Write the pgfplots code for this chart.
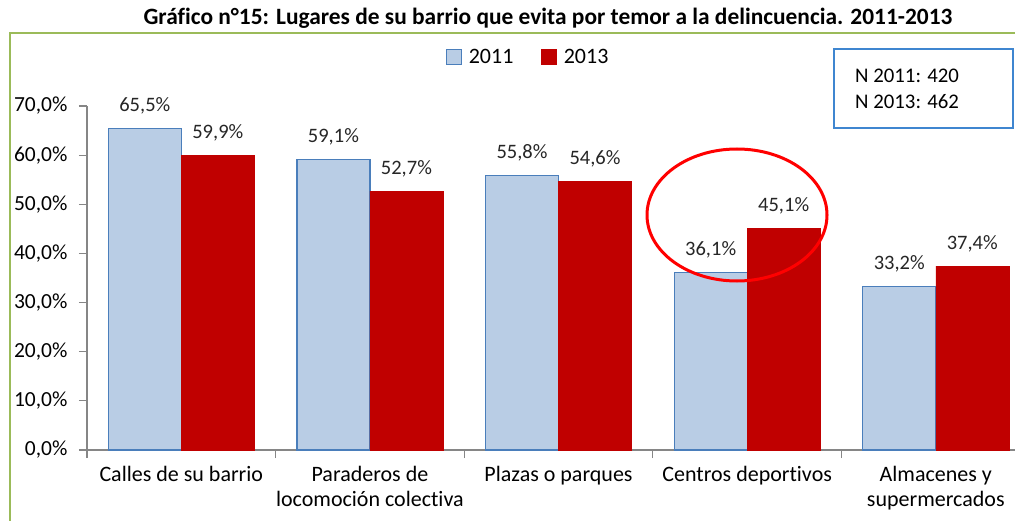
\documentclass[border=0pt]{standalone}
\usepackage{pgfplots}
\pgfplotsset{compat=1.18}
\usepackage{fontspec}
\setmainfont{Carlito}[Ligatures={NoCommon}]
\definecolor{bluefill}{HTML}{B9CDE5}
\definecolor{blueedge}{HTML}{4A7EBB}
\definecolor{redbar}{HTML}{C00000}
\definecolor{greenframe}{HTML}{9BBB59}
\definecolor{axisgray}{HTML}{868686}
\definecolor{boxblue}{HTML}{3F86D0}
\definecolor{lbl}{HTML}{262626}
\begin{document}
\begin{tikzpicture}[x=1pt,y=1pt]
\begin{axis}[
  name=ax,
  scale only axis, width=928pt, height=344pt,
  xmin=-0.5, xmax=4.42, ymin=0, ymax=70,
  ybar=0pt, bar width=73pt,
  axis x line*=bottom, axis y line*=left,
  axis line style={draw=axisgray, line width=1.2pt, -},
  tick align=outside, major tick length=8pt,
  tick style={axisgray, line width=1.2pt},
  ytick={0,10,...,70},
  yticklabels={{0,0\%},{10,0\%},{20,0\%},{30,0\%},{40,0\%},{50,0\%},{60,0\%},{70,0\%}},
  yticklabel style={font=\fontsize{21.5}{24}\selectfont, text=black, xshift=-8pt},
  xtick={-0.5,0.5,1.5,2.5,3.5},
  xticklabels={},
  extra x ticks={0,1,2,3,4},
  extra x tick labels={Calles de su barrio, Paraderos de\\locomoción colectiva, Plazas o parques, Centros deportivos, Almacenes y\\supermercados},
  extra x tick style={major tick length=0pt, tick style={draw=none}},
  xticklabel style={font=\fontsize{22}{25}\selectfont, align=center, anchor=north, text=black, yshift=-13pt},
  legend style={at={(0.4752,1.1424)}, anchor=center, draw=none, fill=none, legend columns=2,
    font=\fontsize{22}{25}\selectfont,
    /tikz/every odd column/.append style={column sep=5pt},
    /tikz/every even column/.append style={column sep=26pt}},
  legend image code/.code={\draw[#1] (0pt,-7.5pt) rectangle (15pt,7.5pt);},
  /pgf/number format/assume math mode=true,
  nodes near coords={\pgfmathprintnumber[fixed,fixed zerofill,precision=1,use comma]{\pgfplotspointmeta}\%},
  every node near coord/.append style={anchor=base, yshift=17pt, text=lbl, font=\fontsize{20.5}{24}\selectfont},
  clip=false,
]
\addplot[fill=bluefill, draw=blueedge, line width=1.2pt] coordinates {(0,65.5) (1,59.1) (2,55.8) (3,36.1) (4,33.2)};
\addplot[fill=redbar, draw=redbar] coordinates {(0,59.9) (1,52.7) (2,54.6) (3,45.1) (4,37.4)};
\legend{2011,2013}
\coordinate (O) at (rel axis cs:0,0);
\end{axis}
\begin{scope}[shift={(O)}, xshift=-87pt, yshift=-70pt]
\begin{scope}
\clip (0,0) rectangle (1015,520);
\draw[greenframe, line width=2pt] (10,-10) -- (10,487) -- (1030,487);
\end{scope}
\node[font=\bfseries\fontsize{23.4}{26}\selectfont, text=black] at (548,502) {Gráfico n°15: Lugares de su barrio que evita por temor a la delincuencia. 2011-2013};
\draw[red, line width=3pt] (737,305) ellipse [x radius=90, y radius=66];
\draw[boxblue, line width=1.5pt] (834,392) rectangle (1013,471);
\node[anchor=base west, inner sep=0pt, font=\fontsize{20.8}{24}\selectfont] at (855,437.5) {N 2011: 420};
\node[anchor=base west, inner sep=0pt, font=\fontsize{20.8}{24}\selectfont] at (855,411) {N 2013: 462};
\pgfresetboundingbox
\useasboundingbox (0,0) rectangle (1015,520);
\end{scope}
\end{tikzpicture}
\end{document}
